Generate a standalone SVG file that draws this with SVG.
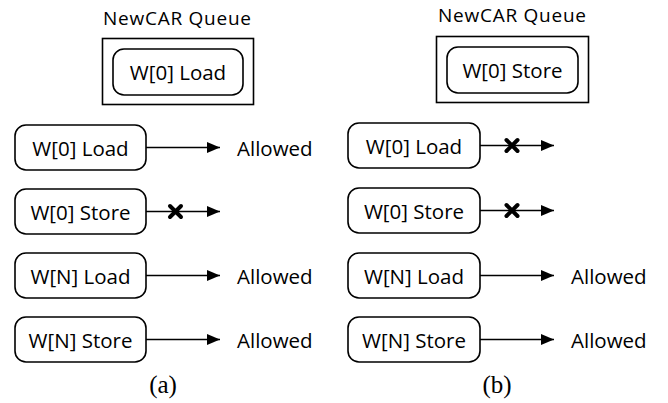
<svg xmlns="http://www.w3.org/2000/svg" width="668" height="403" viewBox="0 0 668 403">
<defs>
<style>
.box{fill:#fff;stroke:#000;stroke-width:1.6}
.t{font-family:"Open Sans","Noto Sans",sans-serif;font-size:20.5px;fill:#000}
.title{font-family:"Open Sans","Noto Sans",sans-serif;font-size:19px;fill:#000}
.cap{font-family:"Liberation Serif",serif;font-size:25px;fill:#000}
.ln{stroke:#000;stroke-width:1.6;fill:none}
.x{stroke:#000;stroke-width:4;stroke-linecap:round;fill:none}
</style>
<marker id="ah" markerUnits="userSpaceOnUse" markerWidth="14" markerHeight="11" refX="13" refY="5.5" orient="auto">
<path d="M0,0 L13,5.5 L0,11 z" fill="#000"/>
</marker>
</defs>
<rect width="668" height="403" fill="#fff"/>

<!-- Panel (a) -->
<g id="a-queue">
<text class="title" x="177" y="25" text-anchor="middle" textLength="148" lengthAdjust="spacing">NewCAR Queue</text>
<rect class="box" x="102.5" y="38.5" width="151" height="66"/>
<rect class="box" x="113" y="49" width="130" height="46" rx="11"/>
<text class="t" x="178" y="80" text-anchor="middle">W[0] Load</text>
</g>
<g id="a-w0load">
<rect class="box" x="15" y="125" width="131" height="45" rx="11"/>
<text class="t" x="80.5" y="156" text-anchor="middle">W[0] Load</text>
</g>
<g id="a-w0store">
<rect class="box" x="15" y="189" width="131" height="45" rx="11"/>
<text class="t" x="80.5" y="220" text-anchor="middle">W[0] Store</text>
</g>
<g id="a-wnload">
<rect class="box" x="15" y="253" width="131" height="45" rx="11"/>
<text class="t" x="80.5" y="284" text-anchor="middle">W[N] Load</text>
</g>
<g id="a-wnstore">
<rect class="box" x="15" y="317" width="131" height="45" rx="11"/>
<text class="t" x="80.5" y="348" text-anchor="middle">W[N] Store</text>
</g>
<g id="a-labels">
<text class="t" x="237" y="156">Allowed</text>
<text class="t" x="237" y="284">Allowed</text>
<text class="t" x="237" y="348">Allowed</text>
<text class="cap" x="163" y="393" text-anchor="middle">(a)</text>
</g>

<!-- Panel (b) -->
<g id="b-queue">
<text class="title" x="512" y="22" text-anchor="middle" textLength="148" lengthAdjust="spacing">NewCAR Queue</text>
<rect class="box" x="436.5" y="36.5" width="152" height="66"/>
<rect class="box" x="447" y="47" width="131" height="46" rx="11"/>
<text class="t" x="512.5" y="78" text-anchor="middle">W[0] Store</text>
</g>
<g id="b-w0load">
<rect class="box" x="348" y="123" width="132" height="45" rx="11"/>
<text class="t" x="414" y="154" text-anchor="middle">W[0] Load</text>
</g>
<g id="b-w0store">
<rect class="box" x="348" y="188" width="132" height="45" rx="11"/>
<text class="t" x="414" y="219" text-anchor="middle">W[0] Store</text>
</g>
<g id="b-wnload">
<rect class="box" x="348" y="253" width="132" height="45" rx="11"/>
<text class="t" x="414" y="284" text-anchor="middle">W[N] Load</text>
</g>
<g id="b-wnstore">
<rect class="box" x="348" y="317" width="132" height="45" rx="11"/>
<text class="t" x="414" y="348" text-anchor="middle">W[N] Store</text>
</g>
<g id="b-labels">
<text class="t" x="571" y="284">Allowed</text>
<text class="t" x="571" y="348">Allowed</text>
<text class="cap" x="497" y="393" text-anchor="middle">(b)</text>
</g>

<g id="connectors">
<line class="ln" x1="146" y1="147.5" x2="220" y2="147.5" marker-end="url(#ah)"/>
<line class="ln" x1="146" y1="211.5" x2="220" y2="211.5" marker-end="url(#ah)"/>
<line class="ln" x1="146" y1="275.5" x2="220" y2="275.5" marker-end="url(#ah)"/>
<line class="ln" x1="146" y1="339.5" x2="220" y2="339.5" marker-end="url(#ah)"/>
<line class="ln" x1="480" y1="145.5" x2="554" y2="145.5" marker-end="url(#ah)"/>
<line class="ln" x1="480" y1="210.5" x2="554" y2="210.5" marker-end="url(#ah)"/>
<line class="ln" x1="480" y1="275.5" x2="554" y2="275.5" marker-end="url(#ah)"/>
<line class="ln" x1="480" y1="339.5" x2="554" y2="339.5" marker-end="url(#ah)"/>
<path class="x" d="M170,206 L181,217 M181,206 L170,217"/>
<path class="x" d="M506.5,140 L517.5,151 M517.5,140 L506.5,151"/>
<path class="x" d="M506.5,205 L517.5,216 M517.5,205 L506.5,216"/>
</g>
</svg>
